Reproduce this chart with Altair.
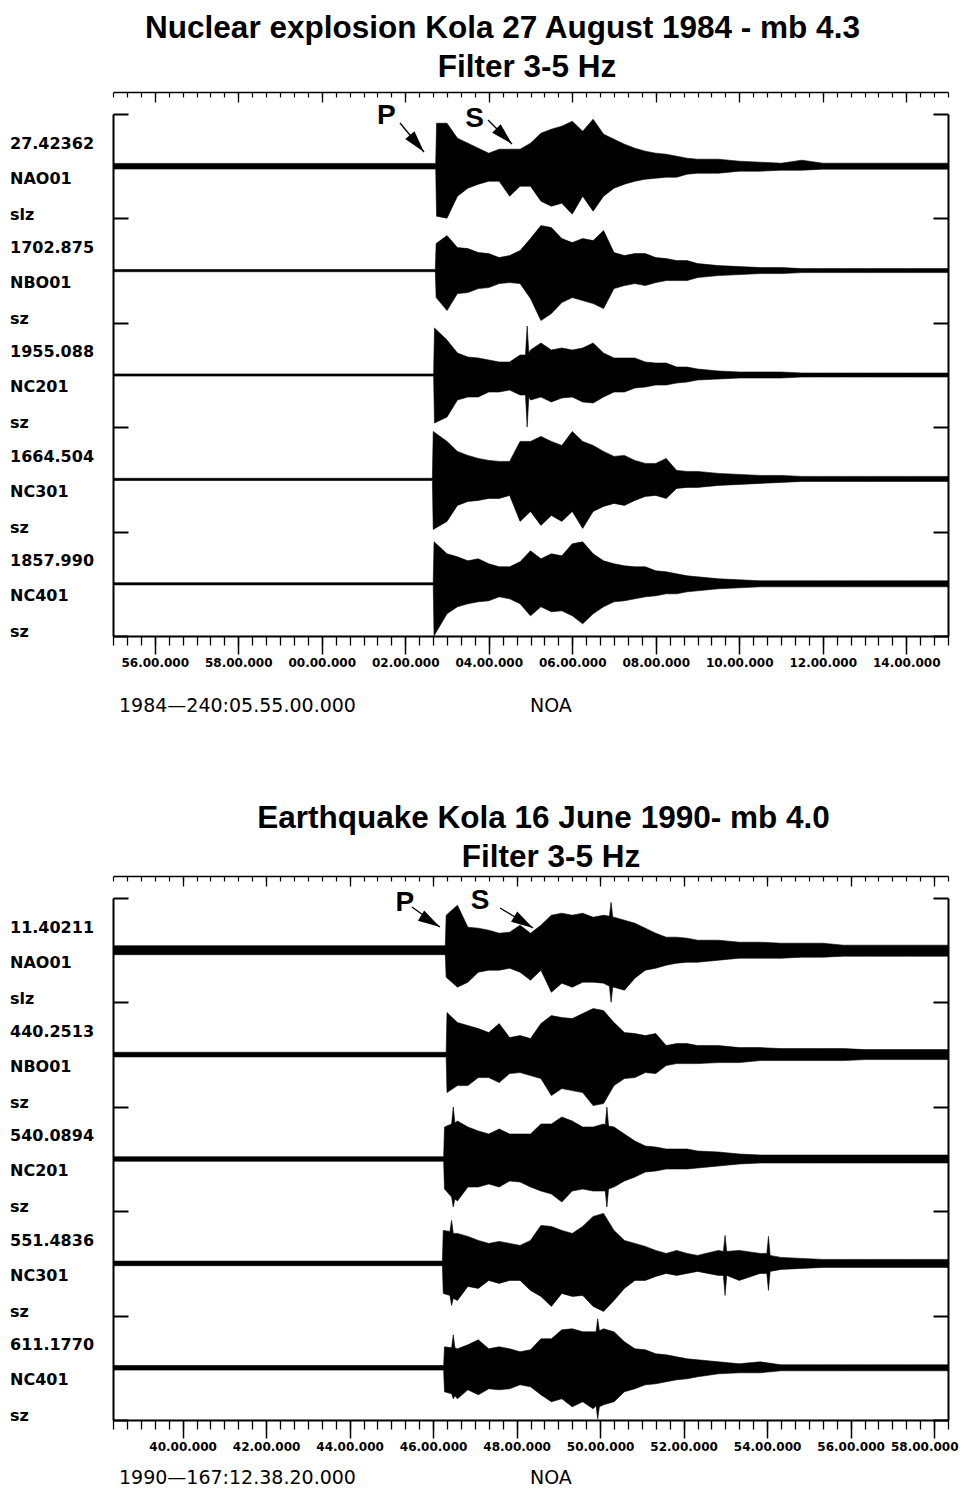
import altair as alt
import pandas as pd

# ---------------- text content ----------------
TITLE_TOP = ["Nuclear explosion Kola 27 August 1984 - mb 4.3", "Filter 3-5 Hz"]
TITLE_BOT = ["Earthquake Kola 16 June 1990- mb 4.0", "Filter 3-5 Hz"]
STATIONS = ["NAO01", "NBO01", "NC201", "NC301", "NC401"]
CHANNELS = ["slz", "sz", "sz", "sz", "sz"]
SCALES_TOP = ["27.42362", "1702.875", "1955.088", "1664.504", "1857.990"]
SCALES_BOT = ["11.40211", "440.2513", "540.0894", "551.4836", "611.1770"]
START_TOP = "1984\u2014240:05.55.00.000"
START_BOT = "1990\u2014167:12.38.20.000"
AGENCY = "NOA"

# window start (minute of the hour) and labelled major ticks (minute of the hour)
START_MIN_TOP = 55.0
START_MIN_BOT = 38 + 20 / 60
MAJOR_MIN_TOP = [56, 58, 60, 62, 64, 66, 68, 70, 72, 74]
MAJOR_MIN_BOT = [40, 42, 44, 46, 48, 50, 52, 54, 56, 58]

# ---------------- waveform envelopes (minutes after window start, amplitude) ----------------
GRID_TOP = [8.0, 8.25, 8.5, 8.75, 9.0, 9.25, 9.5, 9.75, 10.0, 10.25, 10.5, 10.75, 11.0,
            11.25, 11.5, 11.75, 12.0, 12.25, 12.5, 12.75, 13.0, 13.25, 13.5, 13.75, 14.0,
            14.5, 15.0, 15.5, 16.0, 16.5, 17.0, 17.5, 18.0, 19.0, 20.0]
ONSET_TOP = [7.75, 7.74, 7.70, 7.67, 7.69]
ONSET_AMP_TOP = [(43, 50), (27, 27), (47, 48), (48, 50), (42, 52)]
NOISE_TOP = [2.8, 1.1, 1.1, 1.1, 1.1]
UP_TOP = [
    [43, 28, 23, 18, 13, 17, 17, 17, 23, 33, 37, 40, 45, 35, 47, 32, 27, 22, 18, 15, 13, 12, 10, 8, 7, 7, 5, 4, 3, 6, 3, 3, 3, 3, 3],
    [35, 23, 22, 18, 17, 13, 15, 20, 32, 45, 43, 32, 28, 32, 30, 40, 18, 15, 17, 17, 13, 12, 10, 10, 7, 5, 4, 3, 3, 2, 2, 2, 2, 2, 2],
    [35, 22, 18, 17, 15, 13, 13, 20, 25, 32, 25, 27, 25, 27, 32, 22, 17, 17, 17, 13, 12, 12, 8, 8, 6, 4, 3, 3, 3, 2, 2, 2, 2, 2, 2],
    [38, 28, 24, 21, 19, 18, 18, 38, 38, 43, 38, 34, 48, 38, 34, 28, 23, 24, 19, 16, 16, 21, 9, 8, 8, 6, 5, 4, 4, 3, 3, 3, 3, 3, 3],
    [30, 27, 23, 25, 20, 17, 17, 22, 33, 25, 30, 28, 40, 42, 30, 23, 20, 18, 17, 17, 13, 12, 10, 8, 7, 5, 4, 3, 3, 3, 3, 3, 3, 3, 3],
]
DOWN_TOP = [
    [52, 30, 22, 18, 15, 15, 30, 20, 20, 35, 40, 37, 48, 30, 45, 30, 22, 18, 15, 13, 12, 11, 11, 8, 7, 7, 5, 5, 4, 4, 3, 3, 3, 3, 3],
    [40, 23, 22, 18, 17, 13, 12, 13, 28, 50, 43, 32, 27, 30, 33, 38, 18, 15, 13, 15, 12, 10, 10, 10, 7, 5, 4, 3, 3, 2, 2, 2, 2, 2, 2],
    [42, 25, 22, 22, 17, 17, 15, 20, 25, 22, 27, 23, 22, 27, 28, 22, 17, 17, 13, 12, 10, 10, 8, 7, 5, 4, 3, 3, 3, 2, 2, 2, 2, 2, 2],
    [42, 26, 22, 21, 19, 19, 16, 42, 32, 46, 36, 42, 32, 49, 32, 27, 24, 26, 21, 17, 16, 19, 9, 8, 8, 6, 5, 4, 3, 2, 2, 2, 2, 2, 2],
    [30, 23, 20, 18, 17, 13, 15, 20, 32, 23, 28, 27, 32, 40, 30, 23, 18, 17, 15, 13, 12, 10, 10, 8, 7, 5, 4, 3, 3, 3, 3, 3, 3, 3, 3],
]
SPIKES_TOP = [[], [], [(9.88, 20, 20), (9.92, 49, 52), (9.96, 22, 22)], [], []]

GRID_BOT = [8.25, 8.5, 8.75, 9.0, 9.25, 9.5, 9.75, 10.0, 10.25, 10.5, 10.75, 11.0,
            11.25, 11.5, 11.75, 12.0, 12.25, 12.5, 12.75, 13.0, 13.25, 13.5, 13.75, 14.0,
            14.5, 15.0, 15.5, 16.0, 16.5, 17.0, 17.5, 18.0, 19.0, 20.0]
ONSET_BOT = [7.98, 8.0, 7.94, 7.91, 7.94]
ONSET_AMP_BOT = [(35, 27), (42, 38), (32, 30), (33, 30), (21, 24)]
NOISE_BOT = [4.5, 2.3, 2.3, 2.3, 2.3]
UP_BOT = [
    [45, 23, 22, 20, 17, 18, 25, 17, 25, 35, 37, 35, 37, 33, 35, 33, 30, 27, 22, 17, 13, 13, 12, 10, 10, 8, 8, 7, 7, 7, 5, 5, 5, 5],
    [32, 29, 26, 22, 31, 17, 19, 16, 31, 39, 37, 36, 41, 46, 44, 32, 22, 21, 19, 21, 9, 11, 11, 9, 9, 7, 7, 6, 6, 6, 6, 5, 5, 5],
    [38, 32, 28, 25, 30, 25, 25, 25, 35, 35, 42, 38, 32, 32, 35, 32, 25, 18, 13, 12, 10, 10, 10, 8, 7, 5, 4, 4, 4, 4, 4, 4, 4, 4],
    [30, 27, 23, 20, 22, 20, 18, 23, 38, 37, 33, 30, 37, 47, 50, 33, 23, 20, 17, 13, 10, 13, 10, 8, 13, 13, 10, 6, 5, 4, 4, 4, 4, 4],
    [19, 23, 28, 19, 21, 19, 16, 18, 29, 29, 38, 39, 36, 36, 39, 36, 26, 19, 18, 14, 13, 11, 9, 8, 6, 4, 6, 3, 3, 3, 3, 3, 3, 3],
]
DOWN_BOT = [
    [37, 32, 22, 20, 20, 18, 22, 30, 20, 42, 33, 37, 32, 32, 33, 37, 40, 28, 20, 18, 15, 13, 12, 12, 10, 8, 8, 8, 7, 7, 6, 6, 6, 6],
    [31, 31, 23, 23, 28, 19, 18, 21, 24, 41, 34, 36, 38, 51, 49, 31, 24, 23, 18, 19, 11, 9, 9, 9, 8, 8, 6, 6, 6, 6, 6, 5, 5, 5],
    [42, 28, 28, 25, 28, 22, 23, 28, 32, 35, 43, 32, 30, 32, 32, 28, 22, 18, 13, 12, 10, 10, 10, 9, 7, 5, 4, 4, 4, 4, 4, 4, 4, 4],
    [37, 23, 25, 17, 20, 17, 17, 27, 33, 43, 30, 33, 32, 43, 48, 37, 25, 17, 17, 13, 10, 12, 10, 8, 12, 17, 10, 6, 5, 4, 4, 4, 4, 4],
    [31, 22, 27, 21, 22, 21, 17, 19, 27, 34, 31, 39, 34, 41, 37, 34, 24, 21, 17, 16, 14, 12, 11, 9, 6, 5, 5, 3, 3, 3, 3, 3, 3, 3],
]
SPIKES_BOT = [
    [(11.89, 34, 36), (11.93, 48, 52), (11.97, 33, 37)],
    [],
    [(8.11, 35, 38), (8.15, 52, 48), (8.19, 36, 40), (11.79, 34, 32), (11.83, 52, 48), (11.87, 33, 30)],
    [(8.07, 32, 32), (8.11, 43, 42), (8.15, 30, 35), (14.62, 12, 12), (14.66, 28, 32), (14.70, 12, 12),
     (15.66, 10, 10), (15.70, 27, 27), (15.74, 8, 8)],
    [(8.11, 20, 26), (8.15, 33, 31), (8.19, 20, 28), (11.57, 36, 38), (11.61, 49, 51), (11.65, 37, 39)],
]

# phase annotations: letter (t, y) and arrow (t0, y0, t1, y1, head angle)
LETTERS_TOP = [("P", 6.55, 520), ("S", 8.66, 517)]
ARROWS_TOP = [(6.874, 513, 7.449, 484, 140), (8.982, 516, 9.557, 492, 135)]
LETTERS_BOT = [("P", 6.99, 517), ("S", 8.79, 519)]
ARROWS_BOT = [(7.16, 513, 7.83, 493, 121), (9.27, 512, 10.06, 492, 121)]

# ---------------- layout constants ----------------
BAND = 104.4
W, H = 835, 522
SPAN = 20.0
LBL_FONT = "DejaVu Sans"
TTL_FONT = "Liberation Sans"
HEAD = "M0,0L0.6,2.2L-0.6,2.2Z"


def px_t(px):
    return px * SPAN / W


def px_y(py):
    return H - py


def trace_frame(grid, onsets, onset_amp, noise, up, down, spikes):
    rows = []
    for k, name in enumerate(STATIONS):
        base = (4 - k) * BAND + BAND / 2
        pts = [(0.0, noise[k], noise[k]), (onsets[k] - 0.02, noise[k], noise[k]),
               (onsets[k], onset_amp[k][0], onset_amp[k][1])]
        pts += list(zip(grid, up[k], down[k]))
        pts += list(spikes[k])
        pts.sort(key=lambda p: p[0])
        for t, u, d in pts:
            rows.append({"trace": name, "t": t, "hi": base + u, "lo": base - d})
    return pd.DataFrame(rows)


def label_frame(scales):
    rows = []
    for k in range(5):
        top = (5 - k) * BAND
        rows.append({"t": px_t(-103), "y": top - 29.5, "text": scales[k]})
        rows.append({"t": px_t(-103), "y": top - 64.5, "text": STATIONS[k]})
        rows.append({"t": px_t(-103), "y": top - 100.5, "text": CHANNELS[k]})
    return pd.DataFrame(rows)


def panel(traces, scales, start_min, major_min, titles, title_pos, start_txt, footer_y,
          letters, arrows):
    xs = alt.Scale(domain=[0, SPAN], nice=False, zero=False)
    ys = alt.Scale(domain=[0, 5 * BAND], nice=False, zero=False)
    major = [m - start_min for m in major_min]
    minor = [k / 3 for k in range(61)]
    expr = ("pad(toString(round((datum.value + %s) %% 60)), 2, '0', 'left') + '.00.000'"
            % repr(start_min))
    common = dict(domainColor="black", tickColor="black", grid=False, title=None)
    ax_major = alt.Axis(orient="bottom", values=major, tickSize=18, tickWidth=1.5,
                        domainWidth=2, labelExpr=expr, labelFont=LBL_FONT, labelFontSize=12,
                        labelFontWeight="bold", labelColor="black", labelPadding=3,
                        labelOverlap=False, labelFlush=16, labelFlushOffset=24, **common)
    ax_minor = alt.Axis(orient="bottom", values=minor, tickSize=9, tickWidth=1.3,
                        domain=False, labels=False, **common)
    ax_tmaj = alt.Axis(orient="bottom", offset=-(H + 22), values=major, tickSize=10,
                       tickWidth=1.3, domainWidth=1.5, labels=False, **common)
    ax_tmin = alt.Axis(orient="bottom", offset=-(H + 22), values=minor, tickSize=5,
                       tickWidth=1.2, domain=False, labels=False, **common)
    bounds = [k * BAND for k in range(6)]
    ax_left = alt.Axis(orient="right", offset=-W, values=bounds, tickSize=15, tickWidth=2,
                       domainWidth=2, labels=False, **common)
    ax_right = alt.Axis(orient="left", offset=-W, values=bounds, tickSize=15, tickWidth=2,
                        domainWidth=2, labels=False, **common)

    def X(f, ax=None):
        return alt.X(f, scale=xs, axis=ax)

    def Y(f, ax=None):
        return alt.Y(f, scale=ys, axis=ax)

    base = alt.Chart(traces)
    area = base.mark_area(color="black", stroke="black", strokeWidth=0.6,
                          interpolate="linear", clip=True).encode(
        x=X("t:Q", ax_major), y=Y("hi:Q", ax_left), y2="lo:Q", detail="trace:N")
    ghost = base.mark_point(opacity=0)
    g1 = ghost.encode(x=X("t:Q", ax_minor), y=Y("hi:Q", ax_right))
    g2 = ghost.encode(x=X("t:Q", ax_tmaj), y=Y("hi:Q"))
    g3 = ghost.encode(x=X("t:Q", ax_tmin), y=Y("hi:Q"))

    labs = alt.Chart(label_frame(scales)).mark_text(
        align="left", baseline="middle", font=LBL_FONT, fontSize=16, fontWeight="bold",
        color="black").encode(x=X("t:Q"), y=Y("y:Q"), text="text:N")

    let_df = pd.DataFrame(letters, columns=["text", "t", "y"])
    lets = alt.Chart(let_df).mark_text(
        font=TTL_FONT, fontSize=28, fontWeight="bold", color="black",
        align="center", baseline="middle").encode(x=X("t:Q"), y=Y("y:Q"), text="text:N")
    arr_df = pd.DataFrame(arrows, columns=["t0", "y0", "t1", "y1", "ang"])
    shafts = alt.Chart(arr_df).mark_rule(color="black", strokeWidth=1.3).encode(
        x=X("t0:Q"), y=Y("y0:Q"), x2="t1:Q", y2="y1:Q")
    heads = alt.Chart(arr_df).mark_point(shape=HEAD, filled=True, size=400,
                                         color="black", opacity=1).encode(
        x=X("t1:Q"), y=Y("y1:Q"), angle=alt.Angle("ang:Q", scale=None))

    ttl_df = pd.DataFrame({"text": titles,
                           "t": [px_t(p[0]) for p in title_pos],
                           "y": [px_y(p[1]) for p in title_pos]})
    ttl = alt.Chart(ttl_df).mark_text(
        font=TTL_FONT, fontSize=31.5, fontWeight="bold", color="black",
        align="center", baseline="middle").encode(x=X("t:Q"), y=Y("y:Q"), text="text:N")
    foot_df = pd.DataFrame({"text": [start_txt, AGENCY],
                            "t": [px_t(6), px_t(417)],
                            "y": [px_y(footer_y), px_y(footer_y)]})
    foot = alt.Chart(foot_df).mark_text(
        font=LBL_FONT, fontSize=19, color="black", align="left",
        baseline="middle").encode(x=X("t:Q"), y=Y("y:Q"), text="text:N")

    return alt.layer(area, g1, g2, g3, labs, shafts, heads, lets, ttl, foot).properties(
        width=W, height=H).resolve_axis(x="independent", y="independent")


top = panel(trace_frame(GRID_TOP, ONSET_TOP, ONSET_AMP_TOP, NOISE_TOP, UP_TOP, DOWN_TOP, SPIKES_TOP),
            SCALES_TOP, START_MIN_TOP, MAJOR_MIN_TOP, TITLE_TOP,
            [(389.5, -85), (414, -46)], START_TOP, 592, LETTERS_TOP, ARROWS_TOP)
bot = panel(trace_frame(GRID_BOT, ONSET_BOT, ONSET_AMP_BOT, NOISE_BOT, UP_BOT, DOWN_BOT, SPIKES_BOT),
            SCALES_BOT, START_MIN_BOT, MAJOR_MIN_BOT, TITLE_BOT,
            [(430.5, -79), (438, -40)], START_BOT, 580, LETTERS_BOT, ARROWS_BOT)

chart = alt.vconcat(top, bot, spacing=262, bounds="flush").properties(
    padding={"left": 2, "top": 4, "right": 0, "bottom": 2},
    background="white",
).configure_view(stroke=None)

chart.save("out.html", embed_options={"renderer": "svg", "actions": False})
